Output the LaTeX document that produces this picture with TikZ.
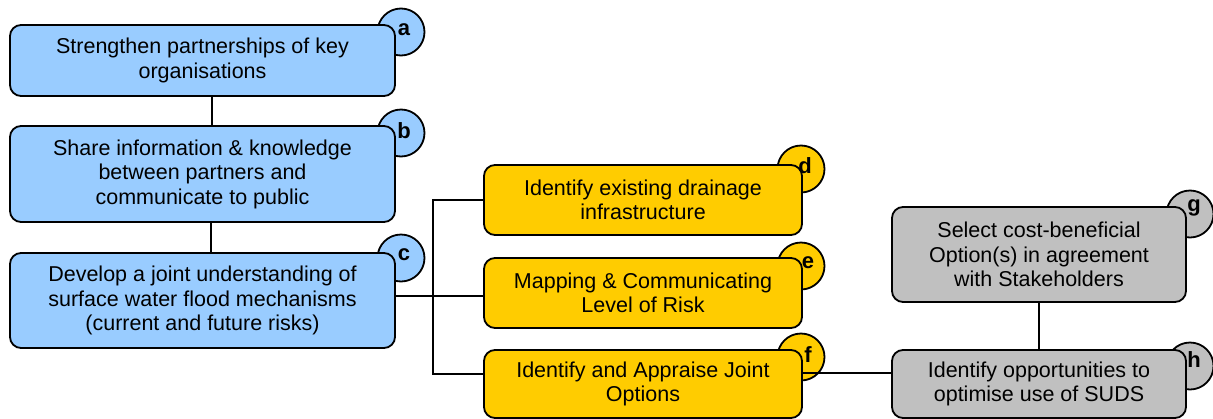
\documentclass[tikz,border=0pt]{standalone}
\usepackage{fontspec}
\setmainfont{Liberation Sans}
\definecolor{cblue}{HTML}{99CCFF}
\definecolor{cyel}{HTML}{FFCC00}
\definecolor{cgrey}{HTML}{C0C0C0}
\tikzset{
  box/.style={draw=black, line width=1.8pt, rounded corners=11pt, align=center,
    font=\fontsize{21.5}{24.5}\selectfont, inner sep=0pt},
  badge/.style={draw=black, line width=1.8pt, circle, minimum size=47pt, inner sep=0pt},
  lett/.style={font=\fontsize{22}{22}\selectfont\bfseries, inner sep=0pt},
  conn/.style={line width=1.8pt, draw=black}
}
\begin{document}
\begin{tikzpicture}[x=1pt,y=-1pt]
\useasboundingbox (0,0) rectangle (1213,418);
\clip (0,0) rectangle (1213,418);
% badges (behind boxes)
\node[badge, fill=cblue] (ca) at (401,32) {};
\node[badge, fill=cblue] (cb) at (401,133) {};
\node[badge, fill=cblue] (cc) at (401,258) {};
\node[badge, fill=cyel] (cd) at (801,169) {};
\node[badge, fill=cyel] (ce) at (801,266) {};
\node[badge, fill=cyel] (cf) at (801,357) {};
\node[badge, fill=cgrey] (cg) at (1190,214) {};
\node[badge, fill=cgrey] (ch) at (1190,366) {};
% boxes
\node[box, fill=cblue, minimum width=385pt, minimum height=71pt] (a) at (202.5,60.5) {Strengthen partnerships of key\\organisations};
\node[box, fill=cblue, minimum width=385pt, minimum height=96pt] (b) at (202.5,174) {Share information \& knowledge\\between partners and\\communicate to public};
\node[box, fill=cblue, minimum width=385pt, minimum height=95pt] (c) at (202.5,300.5) {Develop a joint understanding of\\surface water flood mechanisms\\(current and future risks)};
\node[box, fill=cyel, minimum width=318pt, minimum height=70pt] (d) at (643,200) {Identify existing drainage\\infrastructure};
\node[box, fill=cyel, minimum width=318pt, minimum height=70pt] (e) at (643,293) {Mapping \& Communicating\\Level of Risk};
\node[box, fill=cyel, minimum width=318pt, minimum height=68pt] (f) at (643,384) {Identify and Appraise Joint\\Options};
\node[box, fill=cgrey, minimum width=294pt, minimum height=95pt] (g) at (1039,254.5) {Select cost-beneficial\\Option(s) in agreement\\with Stakeholders};
\node[box, fill=cgrey, minimum width=294pt, minimum height=68pt] (h) at (1039,384) {Identify opportunities to\\optimise use of SUDS};
% connectors
\coordinate (j) at (433,296);
\draw[conn] ([xshift=9.5pt]a.south) -- ([xshift=9.5pt]a.south |- b.north);
\draw[conn] ([xshift=8.5pt]b.south) -- ([xshift=8.5pt]b.south |- c.north);
\draw[conn] (c.east |- j) -- (e.west |- j);
\draw[conn] (d.west) -| (j);
\draw[conn] (j) |- (f.west |- 0,374);
\draw[conn] (f.east |- 0,373) -- (h.west |- 0,373);
\draw[conn] (g.south) -- (h.north);
% letters
\node[lett] (la) at (404,30) {a};
\node[lett] (lb) at (404,131) {b};
\node[lett] (lc) at (404,255) {c};
\node[lett] (ld) at (805,166) {d};
\node[lett] (le) at (808,263) {e};
\node[lett] (lf) at (808,355) {f};
\node[lett] (lg) at (1194,208) {g};
\node[lett] (lh) at (1194,360) {h};
\end{tikzpicture}
\end{document}
